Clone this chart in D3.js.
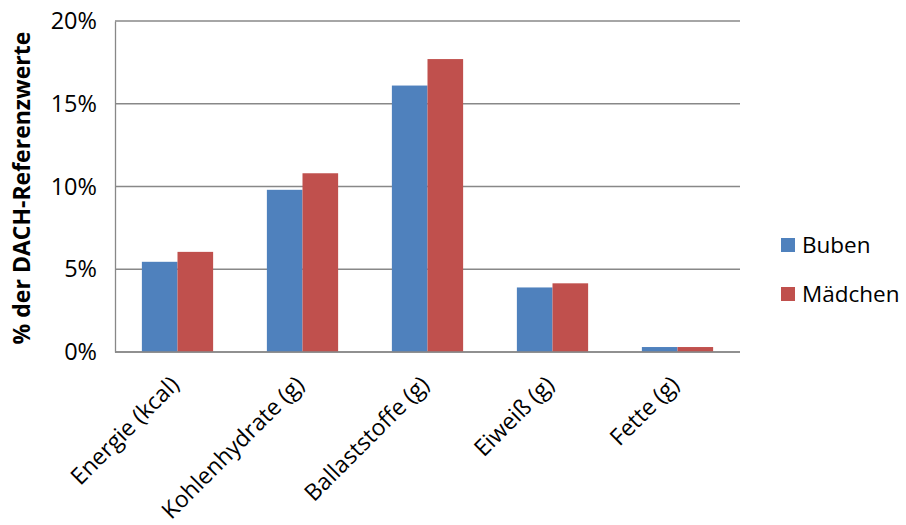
<!DOCTYPE html>
<html><head><meta charset="utf-8">
<script src="https://cdn.jsdelivr.net/npm/d3@7"></script>
<style>body{margin:0;background:#fff}svg{display:block}text{font-family:"Open Sans",sans-serif;fill:#000}</style>
</head><body><svg id="c" width="906" height="525"></svg>
<script>
const categories = ["Energie (kcal)", "Kohlenhydrate (g)", "Ballaststoffe (g)", "Eiweiß (g)", "Fette (g)"];
const seriesNames = ["Buben", "Mädchen"];
const buben = [5.45, 9.8, 16.1, 3.9, 0.3];
const maedchen = [6.05, 10.8, 17.7, 4.15, 0.3];
const yTicks = [0, 5, 10, 15, 20];
const colors = ["#4F81BD", "#C0504D"];

const svg = d3.select("#c");
const L = 115, R = 740, T = 21, B = 352;
const x = d3.scaleBand().domain(categories).range([L, R]).padding(0);
const x1 = d3.scaleBand().domain(seriesNames).range([x.bandwidth()*0.215, x.bandwidth()*0.785]).padding(0);
const y = d3.scaleLinear().domain([0, 20]).range([B, T]);

// gridlines
svg.append("g").selectAll("line").data(yTicks).join("line")
  .attr("x1", L).attr("x2", R).attr("y1", d => y(d)).attr("y2", d => y(d))
  .attr("stroke", "#888").attr("stroke-width", 1.3);

// y axis
const ya = svg.append("g").attr("transform", `translate(${L},0)`)
  .call(d3.axisLeft(y).tickValues(yTicks).tickFormat(d => d + "%").tickSize(0).tickPadding(18));
ya.select(".domain").attr("stroke", "#888").attr("stroke-width", 1.3);
ya.selectAll("text").style("font-size", "23.5px").style("font-family", "Open Sans").attr("fill", "#000");

// bars
const data = categories.map((c, i) => ({c, vals: [buben[i], maedchen[i]]}));
const g = svg.append("g").selectAll("g").data(data).join("g")
  .attr("transform", d => `translate(${x(d.c)},0)`);
g.selectAll("rect").data(d => d.vals.map((v, j) => ({s: seriesNames[j], v, j}))).join("rect")
  .attr("x", d => x1(d.s)).attr("width", x1.bandwidth())
  .attr("y", d => y(d.v)).attr("height", d => y(0) - y(d.v))
  .attr("fill", d => colors[d.j]);

// baseline on top
svg.append("line").attr("x1", L).attr("x2", R).attr("y1", y(0)).attr("y2", y(0))
  .attr("stroke", "#888").attr("stroke-width", 1.3);

// x labels
svg.append("g").selectAll("text").data(categories).join("text")
  .attr("transform", d => `translate(${x(d) + x.bandwidth()/2 + 3},${B + 34}) rotate(-45)`)
  .attr("text-anchor", "end").style("font-size", "23px")
  .text(d => d);

// y title
svg.append("text").attr("transform", `translate(30,188) rotate(-90)`)
  .attr("text-anchor", "middle").style("font-size", "23px").style("font-weight", "bold")
  .text("% der DACH-Referenzwerte");

// legend
const lg = svg.append("g").selectAll("g").data(seriesNames).join("g")
  .attr("transform", (d, i) => `translate(781,${238 + i*49})`);
lg.append("rect").attr("width", 14).attr("height", 14).attr("fill", (d, i) => colors[i]);
lg.append("text").attr("x", 21).attr("y", 15).style("font-size", "22.5px").text(d => d);
</script></body></html>
